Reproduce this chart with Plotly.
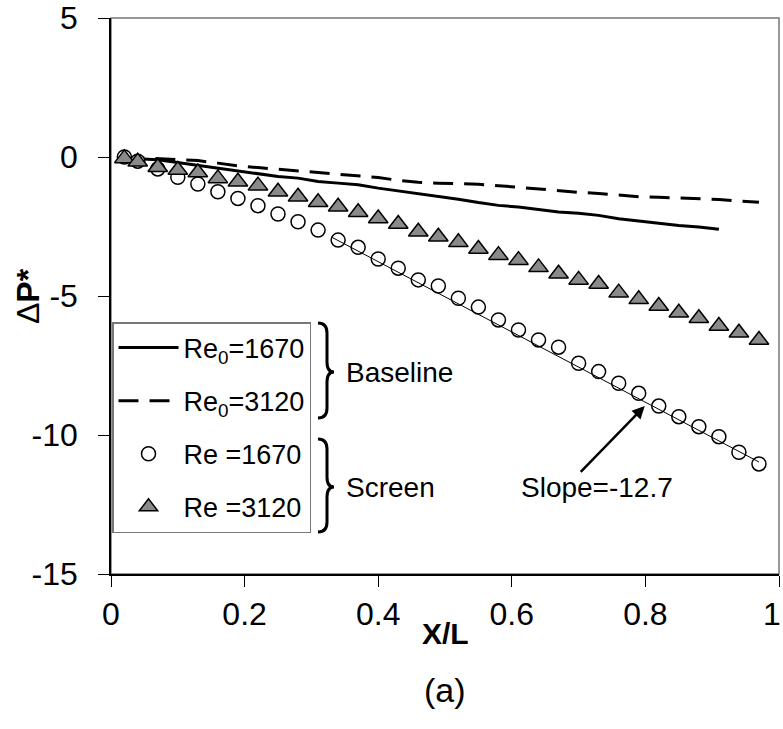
import plotly.graph_objects as go

# ---------------- data ----------------
x_pts = [0.02, 0.04, 0.07, 0.10, 0.13, 0.16, 0.19, 0.22, 0.25, 0.28, 0.31, 0.34,
         0.37, 0.40, 0.43, 0.46, 0.49, 0.52, 0.55, 0.58, 0.61, 0.64, 0.67, 0.70,
         0.73, 0.76, 0.79, 0.82, 0.85, 0.88, 0.91, 0.94, 0.97]

base_1670_x = x_pts[:31]
base_1670_y = [0.0, -0.06, -0.10, -0.20, -0.28, -0.38, -0.50, -0.60, -0.70, -0.76,
               -0.88, -0.94, -1.00, -1.12, -1.22, -1.30, -1.42, -1.52, -1.64, -1.74,
               -1.80, -1.90, -1.98, -2.02, -2.10, -2.22, -2.30, -2.40, -2.46, -2.52, -2.60]

base_3120_x = x_pts
base_3120_y = [0.0, -0.02, -0.05, -0.08, -0.13, -0.22, -0.32, -0.38, -0.44, -0.52,
               -0.57, -0.63, -0.68, -0.74, -0.84, -0.91, -0.94, -0.96, -0.98, -1.03,
               -1.09, -1.15, -1.22, -1.27, -1.31, -1.36, -1.43, -1.45, -1.47, -1.49,
               -1.53, -1.58, -1.63]

screen_1670_x = x_pts
screen_1670_y = [0.0, -0.15, -0.43, -0.73, -0.97, -1.25, -1.49, -1.75, -2.05, -2.33,
                 -2.63, -2.99, -3.25, -3.67, -4.00, -4.42, -4.64, -5.08, -5.40, -5.86,
                 -6.22, -6.58, -6.84, -7.42, -7.72, -8.14, -8.50, -8.96, -9.34, -9.70,
                 -10.06, -10.62, -11.04]

screen_3120_x = x_pts
screen_3120_y = [-0.05, -0.17, -0.37, -0.47, -0.56, -0.77, -0.89, -1.03, -1.25, -1.43,
                 -1.63, -1.79, -1.99, -2.21, -2.41, -2.69, -2.87, -3.07, -3.31, -3.53,
                 -3.71, -3.97, -4.20, -4.42, -4.57, -4.88, -5.12, -5.36, -5.60, -5.80,
                 -6.08, -6.32, -6.58]

trend_x = [0.33, 0.97]
trend_y = [-2.88, -10.97]

x_tick_vals = [0, 0.2, 0.4, 0.6, 0.8, 1.0]
x_tick_text = ["0", "0.2", "0.4", "0.6", "0.8", ""]
x_last_label = "1"   # drawn as an annotation so it stays inside the page
y_tick_vals = [5, 0, -5, -10, -15]
y_tick_text = ["5", "0", "-5", "-10", "-15"]

legend_names = ["Re<sub>0</sub>=1670", "Re<sub>0</sub>=3120", "Re =1670", "Re =3120"]
slope_text = "Slope=-12.7"
arrow_head = (0.799, -8.96)
arrow_tail = (0.701, -11.38)

# ---------------- layout helpers ----------------
W, H = 783, 729
PL, PT, PR, PB = 111, 18, 779, 574


def fx(px):
    return (px - PL) / (PR - PL)


def fy(py):
    return (PB - py) / (PB - PT)


FONT = "Liberation Sans, Arial, sans-serif"

fig = go.Figure()
fig.add_trace(go.Scatter(x=base_1670_x, y=base_1670_y, mode="lines", name=legend_names[0],
                         line=dict(color="black", width=3), legendgroup="a"))
fig.add_trace(go.Scatter(x=base_3120_x, y=base_3120_y, mode="lines", name=legend_names[1],
                         line=dict(color="black", width=3, dash="20px,11px"), legendgroup="b"))
fig.add_trace(go.Scatter(x=screen_1670_x, y=screen_1670_y, mode="markers", name=legend_names[2],
                         marker=dict(symbol="circle", size=14, color="white",
                                     line=dict(color="black", width=1.5)), legendgroup="c"))
fig.add_trace(go.Scatter(x=trend_x, y=trend_y, mode="lines", showlegend=False,
                         line=dict(color="black", width=1)))
fig.add_trace(go.Scatter(x=screen_3120_x, y=screen_3120_y, mode="markers", name=legend_names[3],
                         marker=dict(symbol="triangle-up", size=17, color="#8a8a8a",
                                     line=dict(color="black", width=1.5)), legendgroup="d"))

axis_common = dict(showgrid=False, zeroline=False, showline=True, linecolor="black",
                   linewidth=1.5, ticks="outside", ticklen=11, tickcolor="black", tickwidth=1.2,
                   tickfont=dict(family=FONT, size=32, color="black"),
                   ticklabeloverflow="allow", automargin=False)

fig.update_xaxes(range=[0, 1], tickvals=x_tick_vals, ticktext=x_tick_text, **axis_common)
fig.update_yaxes(range=[-15, 5], tickvals=y_tick_vals, ticktext=y_tick_text,
                 ticklabelstandoff=14, **axis_common)

# frame (top/right)
shapes = [dict(type="rect", xref="paper", yref="paper", x0=0, y0=0, x1=1, y1=1,
               line=dict(color="#777777", width=1.5), layer="below")]


def brace_path(left, top, bot, mid):
    m = left + 9
    t = left + 16
    r = 10
    pts = [
        f"M{fx(left)},{fy(top)}",
        f"Q{fx(m)},{fy(top)} {fx(m)},{fy(top + r)}",
        f"L{fx(m)},{fy(mid - r)}",
        f"Q{fx(m)},{fy(mid)} {fx(t)},{fy(mid)}",
        f"Q{fx(m)},{fy(mid)} {fx(m)},{fy(mid + r)}",
        f"L{fx(m)},{fy(bot - r)}",
        f"Q{fx(m)},{fy(bot)} {fx(left)},{fy(bot)}",
    ]
    return " ".join(pts)


for (tp, bt, md) in [(323, 418, 372), (439, 532, 487)]:
    shapes.append(dict(type="path", xref="paper", yref="paper", path=brace_path(318, tp, bt, md),
                       line=dict(color="black", width=3)))

annotations = [
    dict(text=x_last_label, x=fx(783), y=fy(614), xref="paper", yref="paper", xanchor="right",
         yanchor="middle", showarrow=False, font=dict(family=FONT, size=32, color="black")),
    dict(text="Baseline", x=fx(344), y=fy(372), xref="paper", yref="paper", xanchor="left",
         yanchor="middle", showarrow=False, font=dict(family=FONT, size=28, color="black")),
    dict(text="Screen", x=fx(344), y=fy(487), xref="paper", yref="paper", xanchor="left",
         yanchor="middle", showarrow=False, font=dict(family=FONT, size=28, color="black")),
    dict(text=slope_text, x=fx(597), y=fy(487), xref="paper", yref="paper", xanchor="center",
         yanchor="middle", showarrow=False, font=dict(family=FONT, size=28, color="black")),
    dict(text="", x=arrow_head[0], y=arrow_head[1], ax=arrow_tail[0], ay=arrow_tail[1],
         xref="x", yref="y", axref="x", ayref="y", showarrow=True, arrowhead=2,
         arrowsize=1, arrowwidth=2.5, arrowcolor="black"),
    dict(text="<b>X/L</b>", x=0.5, y=fy(633), xref="paper", yref="paper", xanchor="center",
         yanchor="middle", showarrow=False, font=dict(family=FONT, size=30, color="black")),
    dict(text="(a)", x=0.5, y=fy(690), xref="paper", yref="paper", xanchor="center",
         yanchor="middle", showarrow=False, font=dict(family=FONT, size=34, color="black")),
    dict(text="Δ<b>P*</b>", x=fx(28), y=0.5, xref="paper", yref="paper", xanchor="center",
         yanchor="middle", textangle=-90, showarrow=False,
         font=dict(family=FONT, size=32, color="black")),
]

fig.update_layout(
    width=W, height=H,
    margin=dict(l=PL, r=W - PR, t=PT, b=H - PB, pad=0, autoexpand=False),
    paper_bgcolor="white", plot_bgcolor="white",
    shapes=shapes, annotations=annotations,
    showlegend=True,
    legend=dict(x=fx(112), y=fy(322), xanchor="left", yanchor="top",
                bgcolor="white", bordercolor="#777777", borderwidth=1.5,
                font=dict(family=FONT, size=27, color="black"),
                tracegroupgap=15, itemwidth=60, traceorder="grouped"),
)

fig.write_html("out.html")
